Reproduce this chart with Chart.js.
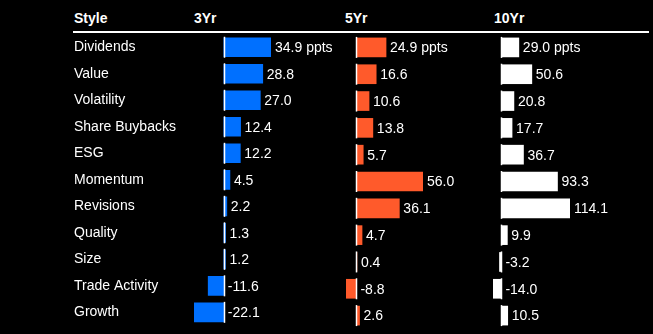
<!DOCTYPE html>
<html>
<head>
<meta charset="utf-8">
<script src="https://cdn.jsdelivr.net/npm/chart.js@4/dist/chart.umd.min.js"></script>
<style>
    body { margin: 0; background: #000; }
    #wrap { position: relative; width: 653px; height: 334px; background: #000; overflow: hidden; }
    #wrap canvas { position: absolute; top: 0; }
    .head { position: absolute; top: 10px; color: #fff; font: bold 14px "Liberation Sans", Arial, sans-serif; line-height: 16px; }
    .rule { position: absolute; top: 31px; left: 73px; width: 576px; height: 2px; background: #fff; }
</style>
</head>
<body>
<div id="wrap">
    <div class="head" style="left:74px">Style</div>
    <div class="head" id="h0" style="left:194px"></div>
    <div class="head" id="h1" style="left:345px"></div>
    <div class="head" id="h2" style="left:494px"></div>
    <div class="rule"></div>
    <canvas id="c0" width="340" height="334" style="left:0"></canvas>
    <canvas id="c1" width="150" height="334" style="left:340px"></canvas>
    <canvas id="c2" width="163" height="334" style="left:490px"></canvas>
</div>
<script>
// Style factor returns, ppts
const styles = ['Dividends', 'Value', 'Volatility', 'Share Buybacks', 'ESG', 'Momentum',
    'Revisions', 'Quality', 'Size', 'Trade Activity', 'Growth'];
const periods = ['3Yr', '5Yr', '10Yr'];
const threeYr = [34.9, 28.8, 27.0, 12.4, 12.2, 4.5, 2.2, 1.3, 1.2, -11.6, -22.1];
const fiveYr = [24.9, 16.6, 10.6, 13.8, 5.7, 56.0, 36.1, 4.7, 0.4, -8.8, 2.6];
const tenYr = [29.0, 50.6, 20.8, 17.7, 36.7, 93.3, 114.1, 9.9, -3.2, -14.0, 10.5];

const seriesList = [threeYr, fiveYr, tenYr];
const colors = ['#0070ff', '#ff5a2b', '#ffffff'];
const FONT = '"Liberation Sans", Arial, sans-serif';

// value text after each bar, first row gets the unit
const valueLabels = {
    id: 'valueLabels',
    afterDatasetsDraw(chart) {
        const ctx = chart.ctx;
        const meta = chart.getDatasetMeta(0);
        const data = chart.data.datasets[0].data;
        ctx.save();
        ctx.font = '14px ' + FONT;
        ctx.fillStyle = '#fff';
        ctx.textAlign = 'left';
        ctx.textBaseline = 'middle';
        meta.data.forEach((bar, i) => {
            let text = data[i].toFixed(1);
            if (i === 0) text += ' ppts';
            const x = Math.max(bar.x, bar.base) + 4;
            ctx.fillText(text, x, bar.y + 1);
        });
        ctx.restore();
    }
};

// short white zero marker on every row
const zeroMarks = {
    id: 'zeroMarks',
    afterDatasetsDraw(chart) {
        const ctx = chart.ctx;
        const x0 = Math.round(chart.scales.x.getPixelForValue(0)) + 0.5;
        const yScale = chart.scales.y;
        ctx.save();
        ctx.strokeStyle = '#fff';
        ctx.lineWidth = 1.5;
        styles.forEach((s, i) => {
            const y = yScale.getPixelForValue(i);
            ctx.beginPath();
            ctx.moveTo(x0, y - 10.5);
            ctx.lineTo(x0, y + 10.5);
            ctx.stroke();
        });
        ctx.restore();
    }
};

const paddings = [
    { left: 74, right: 69, top: 34, bottom: 5 },
    { left: 6, right: 67, top: 34, bottom: 5 },
    { left: 3, right: 83, top: 34, bottom: 5 }
];

function makePanel(idx) {
    const values = seriesList[idx];
    document.getElementById('h' + idx).textContent = periods[idx];
    const ctx = document.getElementById('c' + idx).getContext('2d');
    const showNames = idx === 0;

    const yAxis = {
        display: showNames,
        grid: { display: false, drawTicks: false },
        border: { display: false },
        ticks: {
            color: '#fff',
            font: { size: 14, family: FONT },
            crossAlign: 'far',
            padding: 0
        }
    };
    // only the first panel carries the style names
    if (showNames) {
        yAxis.afterFit = function(axis) { axis.width = 120; };
    }

    new Chart(ctx, {
        type: 'bar',
        data: {
            labels: styles,
            datasets: [{
                label: periods[idx],
                data: values,
                backgroundColor: colors[idx],
                borderWidth: 0,
                barThickness: 19
            }]
        },
        options: {
            indexAxis: 'y',
            responsive: false,
            animation: false,
            layout: { padding: paddings[idx] },
            scales: {
                x: {
                    type: 'linear',
                    min: Math.min(...values),
                    max: Math.max(...values),
                    display: false
                },
                y: yAxis
            },
            plugins: {
                legend: { display: false },
                tooltip: { enabled: false }
            }
        },
        plugins: [valueLabels, zeroMarks]
    });
}

document.addEventListener('DOMContentLoaded', function() {
    periods.forEach((p, i) => makePanel(i));
});
</script>
</body>
</html>
